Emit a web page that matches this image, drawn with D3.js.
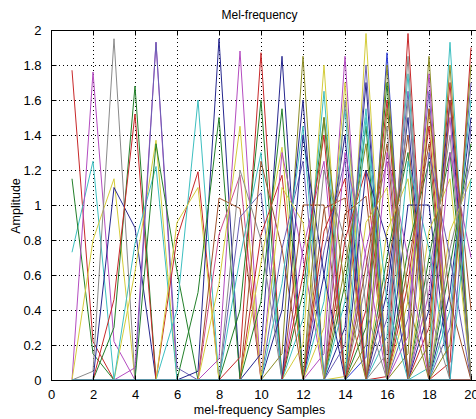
<!DOCTYPE html>
<html>
<head>
<meta charset="utf-8">
<script src="https://cdn.jsdelivr.net/npm/d3@7"></script>
<style>
  html, body { margin: 0; padding: 0; background: #fff; }
  svg { display: block; }
  text { font-family: "Liberation Sans", Arial, Helvetica, sans-serif; fill: #000; }
</style>
</head>
<body>
<svg id="chart" width="476" height="419"></svg>
<script>
// ---------------- DATA ----------------
const title = "Mel-frequency";
const xLabel = "mel-frequency Samples";
const yLabel = "Amplitude";

const samples = [1,2,3,4,5,6,7,8,9,10,11,12,13,14,15,16,17,18,19,20];
const xTicks = [0,2,4,6,8,10,12,14,16,18,20];
const yTicks = [0,0.2,0.4,0.6,0.8,1,1.2,1.4,1.6,1.8,2];
const yTickLabels = ["0","0.2","0.4","0.6","0.8","1","1.2","1.4","1.6","1.8","2"];

// each line: first nonzero sample, its value, value at the next sample (zero elsewhere)
const lineStart = [1,1,1,2,2,2,3,3,3,4,4,4,5,5,6,6,6,7,7,8,8,8,8,9,9,9,9,10,10,10,10,
  11,11,11,11,12,12,12,12,12,13,13,13,13,13,13,14,14,14,14,14,14,15,15,15,15,15,15,
  16,16,16,16,16,16,17,17,17,17,17,17,18,18,18,18,18,18,19,19,19,19,19,19,
  9,10,11,11,12,12,13,13,13,14,14,14,14,15,15,15,15,16,16,16,16,
  17,17,17,17,18,18,18,18,19,19,19,19,20,20];
const valueAtStart = [1.77,0.73,1.15,1.76,0.80,0.05,1.10,0.30,0.46,0.07,0.62,0.78,1.93,1.35,
  0.81,0.40,0.90,0.05,0.50,1.04,0.12,0.83,0.55,0.13,0.93,0.40,0.70,0.15,0.83,0.67,0.45,
  0.15,0.40,0.75,1.30,0.20,0.75,0.50,1.00,0.35,0.15,0.74,0.45,0.98,0.30,0.60,
  0.02,0.30,0.55,0.80,0.95,0.45,0.13,0.30,0.55,0.75,0.90,0.40,
  0.02,0.25,0.50,0.70,0.85,0.35,0.15,0.35,0.55,1.00,0.75,0.45,
  0.07,0.30,0.50,0.70,0.85,0.40,0.10,0.30,0.50,0.65,0.85,0.40,
  1.20,1.25,0.55,1.10,1.40,0.60,1.20,0.85,1.50,1.30,0.20,1.60,0.65,1.20,1.50,0.20,0.65,
  1.30,0.15,1.55,0.60,1.25,0.25,1.60,0.65,1.30,0.20,1.55,0.60,1.30,0.20,1.60,0.75,1.45,1.15];
const valueAtNext = [0.22,1.25,0.15,0.22,1.15,1.95,0.87,1.68,1.52,1.93,1.37,1.22,0.07,0.62,
  1.19,1.60,1.10,1.95,1.50,0.98,1.88,1.17,1.45,1.87,1.07,1.60,1.30,1.85,1.17,1.33,1.55,
  1.85,1.60,1.25,0.70,1.80,1.25,1.50,1.00,1.65,1.85,1.26,1.55,1.04,1.70,1.40,
  1.98,1.70,1.45,1.20,1.05,1.55,1.87,1.70,1.45,1.25,1.10,1.60,
  1.98,1.75,1.50,1.30,1.15,1.65,1.85,1.65,1.45,1.00,1.25,1.55,
  1.93,1.70,1.50,1.30,1.15,1.60,1.90,1.70,1.50,1.35,1.15,1.60,
  0.80,0.75,1.45,0.90,0.60,1.40,0.80,1.15,0.50,0.70,1.80,0.40,1.35,0.80,0.45,1.80,1.35,
  0.70,1.85,0.45,1.40,0.75,1.75,0.40,1.35,0.70,1.80,0.45,1.40,0.70,1.80,0.40,1.25,0,0];

// ---------------- STYLE ----------------
const PAL = {
  R: "#c8282a", M: "#b44cc0", G: "#8a8a8a", Gr: "#23802a", C: "#3dbfc0", Y: "#d4cc3a",
  N: "#26268f", P: "#6a5fb5", O: "#8b8b25", B: "#a0522d", K: "#d04f8c", Bl: "#2f3fd6"
};
const lineColorKeys = ["R","C","Gr","M","Y","G","N","Gr","R","M","Y","C","P","Gr",
  "R","C","Y","N","Gr","B","M","K","Y","R","P","Gr","C","N","R","Y","Gr",
  "O","N","P","M","Y","M","Gr","B","C","M","P","C","B","Y","N",
  "Y","N","Gr","R","B","C","Bl","Gr","G","M","Y","R",
  "R","C","N","Gr","Y","P","O","P","R","N","Gr","Y",
  "C","R","M","Gr","Y","N","R","P","N","Gr","Y","C",
  "G","B","C","Y","N","R","G","R","O","M","P","G","O","N","C","O","B",
  "M","G","O","B","C","M","G","B","P","O","B","G","M","O","B","G","P","C"];

// ---------------- CHART ----------------
const svg = d3.select("#chart");
const W = 476, H = 419;
const pLeft = 51, pTop = 30, pBottom = 380;
const unit = 21.0;
const x = d3.scaleLinear().domain([0, 22]).range([pLeft, pLeft + 22 * unit]);
const y = d3.scaleLinear().domain([0, 2]).range([pBottom, pTop]);
const pRight = x(22);

svg.append("rect").attr("width", W).attr("height", H).attr("fill", "#fff");

svg.append("defs").append("clipPath").attr("id", "plotclip")
  .append("rect").attr("x", pLeft).attr("y", pTop).attr("width", pRight - pLeft).attr("height", pBottom - pTop);

// grid
const grid = svg.append("g");
grid.selectAll("line.gx").data(xTicks.filter(d => d > 0)).join("line")
  .attr("x1", d => Math.round(x(d)) + 0.5).attr("x2", d => Math.round(x(d)) + 0.5)
  .attr("y1", pTop).attr("y2", pBottom)
  .attr("stroke", "#000").attr("stroke-width", 1).attr("stroke-dasharray", "1,3");
grid.selectAll("line.gy").data(yTicks.filter(d => d > 0 && d < 2)).join("line")
  .attr("x1", pLeft).attr("x2", pRight)
  .attr("y1", d => Math.round(y(d)) + 0.5).attr("y2", d => Math.round(y(d)) + 0.5)
  .attr("stroke", "#000").attr("stroke-width", 1).attr("stroke-dasharray", "1,3");

// series
const series = lineStart.map((k, i) => samples.map(s => ({
  x: s,
  y: s === k ? valueAtStart[i] : (s === k + 1 ? valueAtNext[i] : 0)
})));
const lineGen = d3.line().x(d => x(d.x)).y(d => y(d.y));
svg.append("g").attr("clip-path", "url(#plotclip)")
  .selectAll("path").data(series).join("path")
  .attr("d", lineGen)
  .attr("fill", "none")
  .attr("stroke", (d, i) => PAL[lineColorKeys[i]])
  .attr("stroke-width", 1);

// axes
const xAxis = d3.axisBottom(x).tickValues(xTicks).tickSize(-5).tickPadding(9).tickFormat(d3.format("d"));
const gx = svg.append("g").attr("transform", `translate(0,${pBottom + 0.5})`).call(xAxis);
const xAxisTop = d3.axisTop(x).tickValues(xTicks).tickSize(-5).tickFormat("");
const gxt = svg.append("g").attr("transform", `translate(0,${pTop + 0.5})`).call(xAxisTop);
const yAxis = d3.axisLeft(y).tickValues(yTicks).tickSize(-5).tickPadding(10)
  .tickFormat((d, i) => yTickLabels[i]);
const gy = svg.append("g").attr("transform", `translate(${pLeft + 0.5},0)`).call(yAxis);

[gx, gxt, gy].forEach(g => {
  g.select(".domain").attr("stroke", "#000").attr("stroke-width", 1);
  g.selectAll(".tick line").attr("stroke", "#000");
  g.selectAll(".tick text").attr("font-size", 13).attr("fill", "#000")
    .attr("font-family", "'Liberation Sans', Arial, sans-serif");
});
gx.select(".domain").attr("d", `M${pLeft},0H${pRight}`);
gxt.select(".domain").attr("d", `M${pLeft},0H${pRight}`);
gy.select(".domain").attr("d", `M0,${pTop}V${pBottom}`);

// titles
svg.append("text").attr("x", 259.5).attr("y", 19).attr("text-anchor", "middle")
  .attr("font-size", 12).text(title);
svg.append("text").attr("x", 259.5).attr("y", 414).attr("text-anchor", "middle")
  .attr("font-size", 12.5).text(xLabel);
svg.append("text").attr("transform", "translate(20,206) rotate(-90)")
  .attr("text-anchor", "middle").attr("font-size", 12.5).text(yLabel);
</script>
</body>
</html>
